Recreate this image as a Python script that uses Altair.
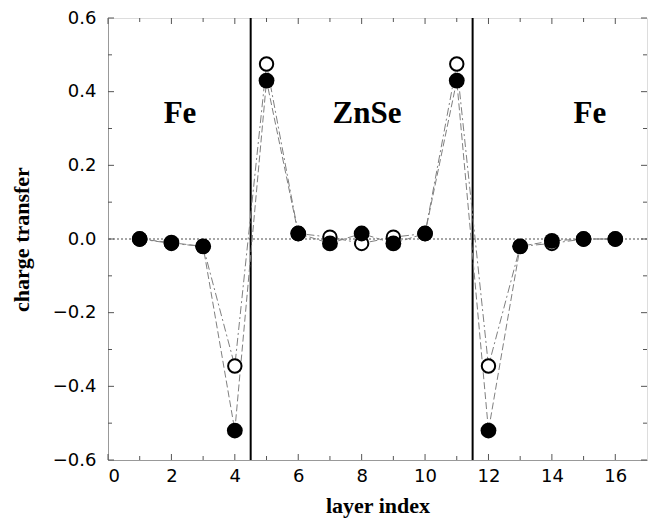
import altair as alt
import pandas as pd

layers = list(range(1, 17))
filled = [0.0, -0.01, -0.02, -0.52, 0.43, 0.015, -0.012, 0.015, -0.012, 0.015, 0.43, -0.52, -0.02, -0.005, 0.0, 0.0]
opened = [0.0, -0.012, -0.02, -0.345, 0.475, 0.015, 0.005, -0.012, 0.005, 0.015, 0.475, -0.345, -0.02, -0.012, 0.0, 0.0]
interfaces = [4.5, 11.5]
region_labels = ["Fe", "ZnSe", "Fe"]
region_x = [2.27, 8.17, 15.2]
region_y = [0.34, 0.34, 0.34]
x_major = [0, 2, 4, 6, 8, 10, 12, 14, 16]
x_minor = [1, 3, 5, 7, 9, 11, 13, 15]
y_major = [-0.6, -0.4, -0.2, 0.0, 0.2, 0.4, 0.6]
y_minor = [-0.5, -0.3, -0.1, 0.1, 0.3, 0.5]

W, H = 539, 442
xs = alt.Scale(domain=[0, 17], nice=False, zero=False)
ys = alt.Scale(domain=[-0.6, 0.6], nice=False, zero=False)

df = pd.DataFrame({"layer": layers, "filled": filled, "open": opened})

base = alt.Chart(df)

xaxis = alt.Axis(values=x_major, ticks=False, grid=False, domainColor="#999999",
                 labelFont="DejaVu Sans", labelFontSize=18, labelColor="black", labelPadding=7,
                 title="layer index", titleFont="Liberation Serif", titleFontSize=22,
                 titleFontWeight="bold", titleColor="black", titlePadding=10)
yaxis = alt.Axis(values=y_major, format=".1f", ticks=False, grid=False,
                 domainColor="#999999", labelFont="DejaVu Sans", labelFontSize=18,
                 labelColor="black", labelPadding=12,
                 title="charge transfer", titleFont="Liberation Serif", titleFontSize=22,
                 titleFontWeight="bold", titleColor="black", titlePadding=19)

zero = alt.Chart(pd.DataFrame({"y": [0.0]})).mark_rule(color="black", strokeWidth=0.7, strokeDash=[2, 2]).encode(
    y=alt.Y("y:Q", scale=ys, axis=yaxis))

vlines = alt.Chart(pd.DataFrame({"x": interfaces})).mark_rule(color="black", strokeWidth=2).encode(
    x=alt.X("x:Q", scale=xs, axis=xaxis))

line_open = base.mark_line(color="#808080", strokeWidth=1, strokeDash=[8, 3, 2, 3]).encode(
    x=alt.X("layer:Q", scale=xs), y=alt.Y("open:Q", scale=ys))
line_filled = base.mark_line(color="#808080", strokeWidth=1, strokeDash=[7, 3]).encode(
    x=alt.X("layer:Q", scale=xs), y=alt.Y("filled:Q", scale=ys))

pts_open = base.mark_point(shape="circle", filled=True, fill="white", stroke="black", strokeWidth=2,
                           size=180, opacity=1).encode(
    x=alt.X("layer:Q", scale=xs), y=alt.Y("open:Q", scale=ys))
pts_filled = base.mark_point(shape="circle", filled=True, color="black", size=250, opacity=1).encode(
    x=alt.X("layer:Q", scale=xs), y=alt.Y("filled:Q", scale=ys))

labels = alt.Chart(pd.DataFrame({"t": region_labels, "x": region_x, "y": region_y})).mark_text(
    font="Liberation Serif", fontSize=31, fontWeight="bold", color="black").encode(
    x=alt.X("x:Q", scale=xs), y=alt.Y("y:Q", scale=ys), text="t:N")

def xtick(vals, ypix, length):
    return alt.Chart(pd.DataFrame({"t": vals})).mark_rule(color="#555555", strokeWidth=1).encode(
        x=alt.X("t:Q", scale=xs), y=alt.value(ypix), y2=alt.value(ypix + length))

def ytick(vals, xpix, length):
    return alt.Chart(pd.DataFrame({"t": vals})).mark_rule(color="#555555", strokeWidth=1).encode(
        y=alt.Y("t:Q", scale=ys), x=alt.value(xpix), x2=alt.value(xpix + length))

ticks = [
    xtick(x_major, H, -6), xtick(x_minor, H, -4), xtick(x_major, 0, 6), xtick(x_minor, 0, 4),
    ytick(y_major, 0, 6), ytick(y_minor, 0, 4), ytick(y_major, W, -6), ytick(y_minor, W, -4),
]

chart = alt.layer(
    zero, vlines, *ticks,
    line_open, line_filled, pts_open, pts_filled, labels
).properties(
    width=W, height=H,
    autosize=alt.AutoSizeParams(type="none"),
    padding={"left": 100, "top": 10, "right": 4, "bottom": 62},
).configure_view(stroke="#999999", strokeWidth=1.2).configure(background="white")

chart.save("out.html", embed_options={"renderer": "svg", "actions": False})
